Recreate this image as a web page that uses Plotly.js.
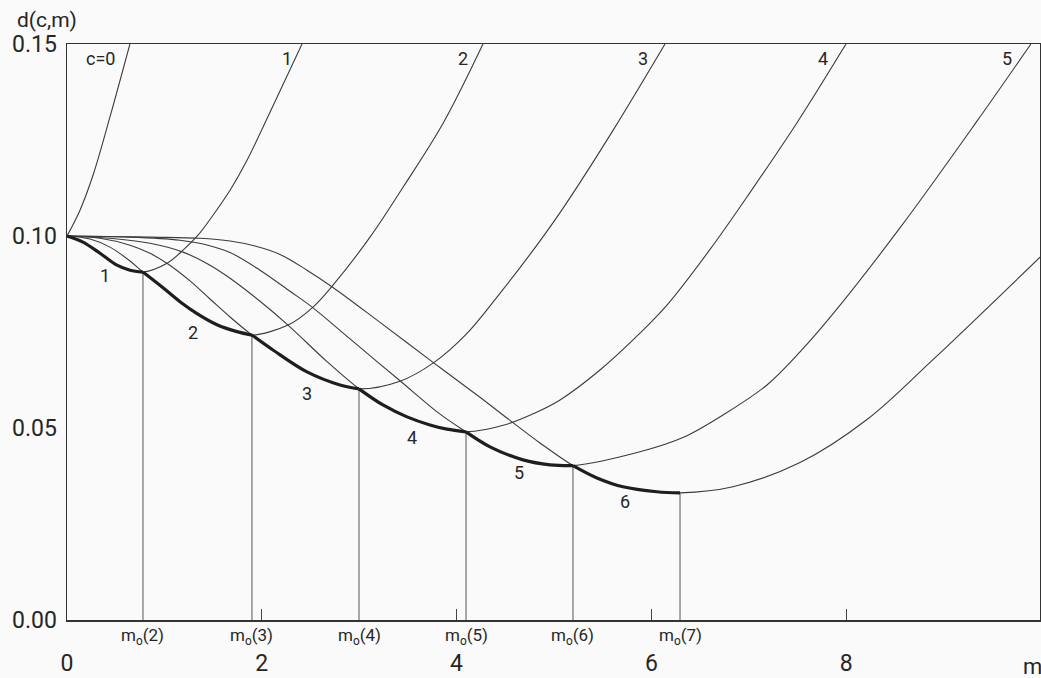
<!DOCTYPE html>
<html><head><meta charset="utf-8">
<script src="https://cdn.plot.ly/plotly-3.0.1.min.js"></script>
<style>html,body{margin:0;padding:0;background:#fafafa}#chart{width:1041px;height:678px}</style>
</head><body><div id="chart"></div>
<script>
// curve parameters c
const curveC = [0, 1, 2, 3, 4, 5, 6];
// d(c,m) curves
const m_c0 = [0, 0.13, 0.272, 0.441, 0.646];
const d_c0 = [0.1000, 0.1065, 0.1162, 0.1310, 0.1500];
const m_c1 = [0, 0.164, 0.339, 0.513, 0.647, 0.780, 1.027, 1.191, 1.345, 1.499, 1.674, 1.848, 2.012, 2.413];
const d_c1 = [0.1000, 0.0984, 0.0955, 0.0924, 0.0911, 0.0906, 0.0929, 0.0963, 0.1002, 0.1054, 0.1119, 0.1197, 0.1283, 0.1500];
const m_c2 = [0, 0.236, 0.441, 0.647, 0.780, 0.986, 1.160, 1.335, 1.540, 1.745, 1.899, 2.269, 2.526, 2.731, 3.111, 3.450, 3.860, 4.271];
const d_c2 = [0.1000, 0.0992, 0.0971, 0.0935, 0.0906, 0.0865, 0.0829, 0.0798, 0.0769, 0.0751, 0.0742, 0.0768, 0.0815, 0.0872, 0.0997, 0.1127, 0.1293, 0.1500];
const m_c3 = [0, 0.339, 0.647, 0.852, 1.037, 1.263, 1.468, 1.674, 1.899, 2.115, 2.464, 2.803, 2.998, 3.419, 3.758, 4.097, 4.415, 4.754, 5.092, 5.606, 6.140];
const d_c3 = [0.1000, 0.0994, 0.0976, 0.0955, 0.0927, 0.0883, 0.0836, 0.0789, 0.0742, 0.0703, 0.0646, 0.0612, 0.0602, 0.0622, 0.0669, 0.0744, 0.0841, 0.0952, 0.1072, 0.1275, 0.1500];
const m_c4 = [0, 0.441, 0.852, 1.191, 1.468, 1.674, 1.982, 2.269, 2.669, 2.998, 3.244, 3.491, 3.727, 3.901, 4.097, 4.517, 4.805, 5.062, 5.472, 5.883, 6.160, 6.602, 7.012, 7.495, 7.998];
const d_c4 = [0.1000, 0.0994, 0.0981, 0.0958, 0.0924, 0.0890, 0.0830, 0.0768, 0.0673, 0.0602, 0.0560, 0.0529, 0.0508, 0.0497, 0.0490, 0.0510, 0.0539, 0.0573, 0.0651, 0.0747, 0.0820, 0.0965, 0.1113, 0.1295, 0.1500];
const m_c5 = [0, 0.647, 1.160, 1.417, 1.674, 1.982, 2.290, 2.526, 2.906, 3.419, 3.830, 4.097, 4.343, 4.682, 4.959, 5.195, 5.883, 6.324, 6.755, 7.187, 7.526, 7.864, 8.552, 9.343, 9.897];
const d_c5 = [0.1000, 0.0997, 0.0989, 0.0978, 0.0957, 0.0911, 0.0856, 0.0813, 0.0732, 0.0623, 0.0536, 0.0490, 0.0451, 0.0417, 0.0404, 0.0402, 0.0438, 0.0475, 0.0537, 0.0612, 0.0698, 0.0797, 0.1021, 0.1299, 0.1500];
const m_c6 = [0, 0.852, 1.366, 1.674, 1.930, 2.187, 2.464, 2.731, 3.214, 3.758, 4.240, 4.548, 4.856, 5.195, 5.441, 5.708, 6.057, 6.294, 6.838, 7.526, 8.214, 8.891, 9.990];
const d_c6 = [0.1000, 0.0997, 0.0994, 0.0987, 0.0974, 0.0952, 0.0911, 0.0866, 0.0775, 0.0671, 0.0580, 0.0520, 0.0461, 0.0402, 0.0370, 0.0347, 0.0334, 0.0331, 0.0347, 0.0410, 0.0522, 0.0678, 0.0945];

// m_o(k), k = 2..7, and the envelope value there
const m0Labels = ['m<sub>o</sub>(2)', 'm<sub>o</sub>(3)', 'm<sub>o</sub>(4)', 'm<sub>o</sub>(5)', 'm<sub>o</sub>(6)', 'm<sub>o</sub>(7)'];
const m0 = [0.780, 1.899, 2.998, 4.097, 5.195, 6.294];
const dAtM0 = [0.0906, 0.0742, 0.0602, 0.0490, 0.0402, 0.0331];

// axis ticks
const xTickVals = [0, 2, 4, 6, 8];
const xTickText = ['0', '2', '4', '6', '8'];
const yTickVals = [0, 0.05, 0.10, 0.15];
const yTickText = ['0.00', '0.05', '0.10', '0.15'];

const mCurves = [m_c0, m_c1, m_c2, m_c3, m_c4, m_c5, m_c6];
const dCurves = [d_c0, d_c1, d_c2, d_c3, d_c4, d_c5, d_c6];

const INK = '#262626';
const traces = [];
for (let i = 0; i < curveC.length; i++) {
  traces.push({x: mCurves[i], y: dCurves[i], mode: 'lines', hoverinfo: 'skip',
    line: {color: '#3c3c3c', width: 1.1, shape: 'spline', smoothing: 1.0}});
}
for (let k = 0; k < m0.length; k++) {
  traces.push({x: [m0[k], m0[k]], y: [0, dAtM0[k]], mode: 'lines', hoverinfo: 'skip',
    line: {color: '#555', width: 1}});
}
// thick envelope: curve c between m_o(c) and m_o(c+1)
for (let c = 1; c <= 6; c++) {
  const lo = c === 1 ? 0 : m0[c - 2];
  const hi = m0[c - 1];
  const xs = [], ys = [];
  mCurves[c].forEach((m, j) => { if (m >= lo - 1e-9 && m <= hi + 1e-9) { xs.push(m); ys.push(dCurves[c][j]); } });
  traces.push({x: xs, y: ys, mode: 'lines', hoverinfo: 'skip',
    line: {color: '#1e1e1e', width: 3.2, shape: 'spline', smoothing: 1.0}});
}

const FONT = 'Roboto, "DejaVu Sans", sans-serif';
const ann = [];
const topLabels = [
  {t: 'c=0', x: 0.349}, {t: '1', x: 2.259}, {t: '2', x: 4.066},
  {t: '3', x: 5.914}, {t: '4', x: 7.762}, {t: '5', x: 9.651}
];
topLabels.forEach(l => ann.push({x: l.x, y: 0.1462, xref: 'x', yref: 'y', text: l.t, showarrow: false,
  font: {family: FONT, size: 18, color: INK}}));
const envLabels = [
  {t: '1', x: 0.390, y: 0.0898}, {t: '2', x: 1.294, y: 0.0750}, {t: '3', x: 2.464, y: 0.0591},
  {t: '4', x: 3.542, y: 0.0474}, {t: '5', x: 4.641, y: 0.0383}, {t: '6', x: 5.729, y: 0.0308}
];
envLabels.forEach(l => ann.push({x: l.x, y: l.y, xref: 'x', yref: 'y', text: l.t, showarrow: false,
  font: {family: FONT, size: 18, color: INK}}));
m0.forEach((m, k) => ann.push({x: m, y: -0.0295, xref: 'x', yref: 'paper', xanchor: 'center', yanchor: 'middle',
  text: m0Labels[k], showarrow: false, font: {family: FONT, size: 17, color: INK}}));
ann.push({x: 0.992, y: -0.080, xref: 'paper', yref: 'paper', xanchor: 'center', yanchor: 'middle',
  text: 'm', showarrow: false, font: {family: FONT, size: 22, color: INK}});
ann.push({x: -0.0534, y: 1.0417, xref: 'paper', yref: 'paper', xanchor: 'left', yanchor: 'middle',
  text: 'd(c,m)', showarrow: false, font: {family: FONT, size: 21, color: INK}});

const layout = {
  width: 1041, height: 678,
  margin: {l: 67, r: 1, t: 44, b: 58},
  paper_bgcolor: '#fafafa', plot_bgcolor: '#fafafa',
  showlegend: false,
  xaxis: {range: [0, 9.99], tickvals: xTickVals, ticktext: xTickText, ticks: 'inside', ticklen: 11,
    tickcolor: '#444', tickwidth: 1, showgrid: false, zeroline: false, showline: true, mirror: true,
    linecolor: '#333', linewidth: 1.5, ticklabelstandoff: 22,
    tickfont: {family: FONT, size: 23, color: INK}},
  yaxis: {range: [0, 0.15], tickvals: yTickVals, ticktext: yTickText, ticks: '',
    showgrid: false, zeroline: false, showline: true, mirror: true,
    linecolor: '#333', linewidth: 1.5, ticklabelstandoff: 4,
    tickfont: {family: FONT, size: 23, color: INK}},
  annotations: ann
};
Plotly.newPlot('chart', traces, layout, {displayModeBar: false, staticPlot: true});
</script>
</body></html>
